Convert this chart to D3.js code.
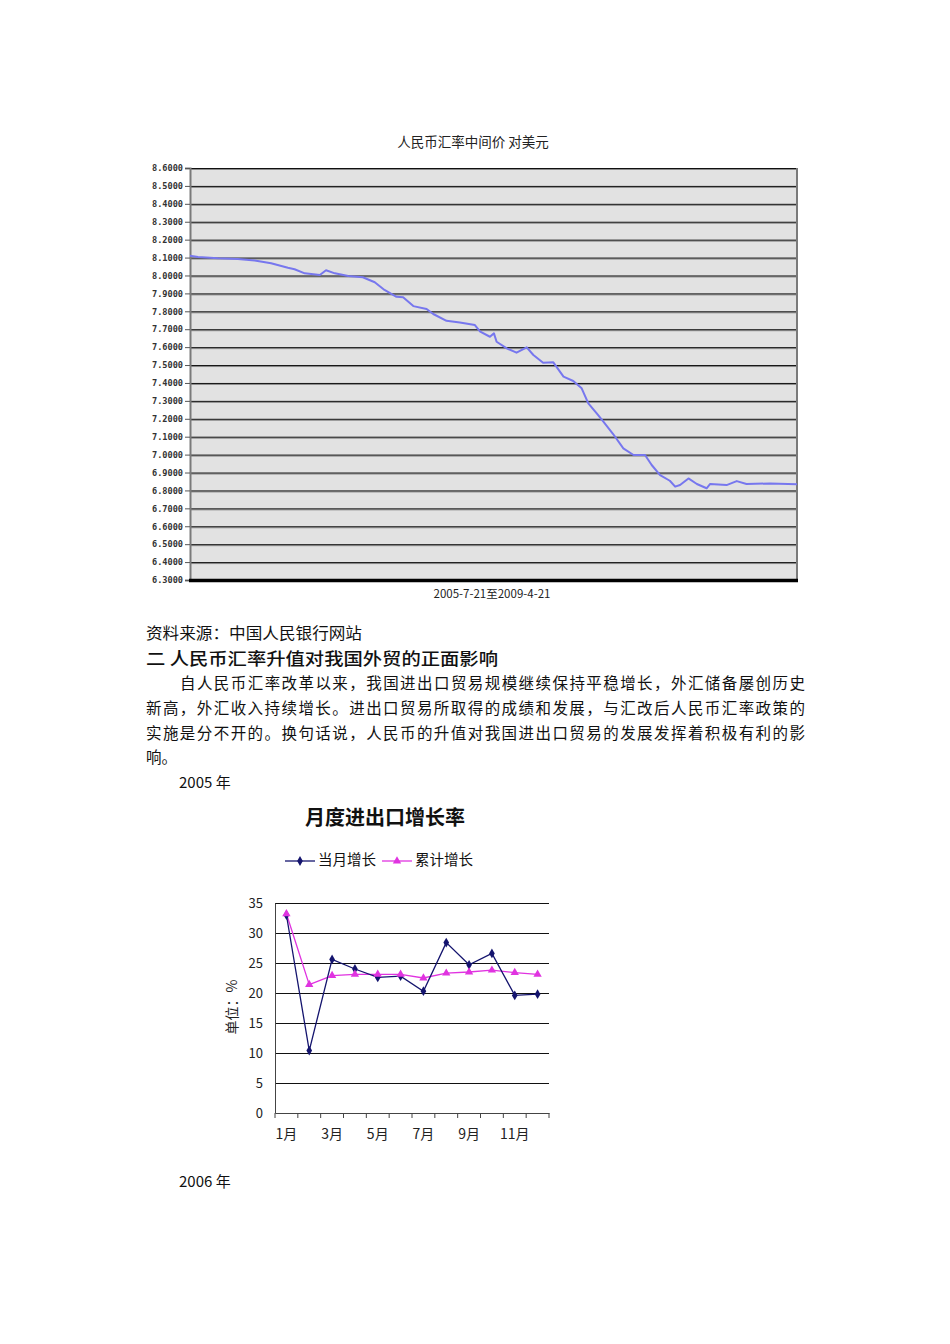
<!DOCTYPE html>
<html><head><meta charset="utf-8">
<script src="https://cdn.jsdelivr.net/npm/d3@7"></script>
<style>body{margin:0;background:#fff} svg{display:block}</style>
</head><body>
<script>
// ---------- data: chart 1 (RMB central parity vs USD) ----------
const rateDates = ["2005-07-21","2005-08-08","2005-09-22","2005-11-06","2005-12-14","2006-01-20","2006-02-27","2006-03-14","2006-04-06","2006-05-10","2006-05-24","2006-06-13","2006-07-13","2006-08-15","2006-09-11","2006-10-03","2006-10-30","2006-11-14","2006-12-07","2007-01-06","2007-01-21","2007-02-20","2007-03-22","2007-04-25","2007-05-07","2007-05-29","2007-06-07","2007-06-13","2007-07-06","2007-07-28","2007-08-20","2007-09-04","2007-09-26","2007-10-19","2007-11-11","2007-12-03","2007-12-22","2008-01-06","2008-01-25","2008-02-09","2008-03-02","2008-03-25","2008-04-17","2008-05-13","2008-05-28","2008-06-16","2008-07-08","2008-07-20","2008-07-31","2008-08-19","2008-09-07","2008-09-29","2008-10-07","2008-11-13","2008-12-06","2008-12-28","2009-02-19","2009-04-21"];
const rateValues = [8.110,8.103,8.096,8.092,8.083,8.068,8.043,8.035,8.012,8.003,8.029,8.012,7.997,7.990,7.962,7.919,7.881,7.878,7.829,7.813,7.785,7.747,7.738,7.723,7.686,7.658,7.677,7.630,7.593,7.569,7.599,7.556,7.513,7.515,7.435,7.411,7.370,7.286,7.230,7.184,7.115,7.035,6.998,6.998,6.942,6.886,6.854,6.821,6.830,6.867,6.836,6.812,6.836,6.830,6.852,6.836,6.839,6.834];
const rateTicks = [8.6,8.5,8.4,8.3,8.2,8.1,8.0,7.9,7.8,7.7,7.6,7.5,7.4,7.3,7.2,7.1,7.0,6.9,6.8,6.7,6.6,6.5,6.4,6.3];
const rateTitle = "人民币汇率中间价 对美元";
const rateXLabel = "2005-7-21至2009-4-21";

// ---------- data: chart 2 (monthly import/export growth 2005) ----------
const months = ["1月","2月","3月","4月","5月","6月","7月","8月","9月","10月","11月","12月"];
const monthlyGrowth = [33.0,10.4,25.6,24.0,22.6,22.8,20.3,28.4,24.7,26.6,19.6,19.8];
const cumulativeGrowth = [33.2,21.4,22.9,23.1,23.1,23.1,22.5,23.3,23.5,23.8,23.4,23.1];
const growthTicks = [0,5,10,15,20,25,30,35];
const seriesNames = ["当月增长","累计增长"];

// ---------- page text ----------
const sourceText = "资料来源：中国人民银行网站";
const headingText = "二 人民币汇率升值对我国外贸的正面影响";
const paraLines = [
  {t:"自人民币汇率改革以来，我国进出口贸易规模继续保持平稳增长，外汇储备屡创历史", indent:true, just:true},
  {t:"新高，外汇收入持续增长。进出口贸易所取得的成绩和发展，与汇改后人民币汇率政策的", indent:false, just:true},
  {t:"实施是分不开的。换句话说，人民币的升值对我国进出口贸易的发展发挥着积极有利的影", indent:false, just:true},
  {t:"响。", indent:false, just:false}
];

const FONT = "'Noto Sans CJK SC','Noto Sans',sans-serif";
const svg = d3.select("body").append("svg").attr("width",950).attr("height",1344)
  .style("font-family",FONT);

// ================= chart 1 =================
const parse = d3.timeParse("%Y-%m-%d");
const rateData = rateDates.map((d,i)=>({date:parse(d), v:rateValues[i]}));
const x1 = d3.scaleTime().domain([parse("2005-07-21"),parse("2009-04-21")]).range([190,797]);
const y1 = d3.scaleLinear().domain([6.3,8.6]).range([580,168]);

const g1 = svg.append("g");
g1.append("rect").attr("x",190).attr("y",168).attr("width",607).attr("height",412).attr("fill","#e2e2e2");
g1.selectAll(".gl").data(rateTicks.filter(t=>t>6.35)).join("line")
  .attr("x1",190).attr("x2",797).attr("y1",d=>y1(d)+1.5).attr("y2",d=>y1(d)+1.5)
  .attr("stroke","#8a8a8a").attr("stroke-width",1);
g1.selectAll(".gd").data(rateTicks.filter(t=>t>6.35)).join("line")
  .attr("x1",190).attr("x2",797).attr("y1",d=>y1(d)+0.5).attr("y2",d=>y1(d)+0.5)
  .attr("stroke","#111").attr("stroke-width",1);
g1.append("line").attr("x1",797).attr("x2",797).attr("y1",168).attr("y2",580).attr("stroke","#7a7a7a").attr("stroke-width",2);
const ax1 = g1.append("g").attr("transform","translate(190,0)")
  .call(d3.axisLeft(y1).tickValues(rateTicks).tickFormat(d3.format(".4f")).tickSize(5).tickPadding(2));
ax1.select(".domain").attr("stroke","#7a7a7a").attr("stroke-width",2);
ax1.selectAll(".tick line").attr("stroke","#555");
ax1.selectAll(".tick text").attr("font-family","'DejaVu Sans Mono',monospace").attr("font-size",8.6)
  .attr("font-weight","bold").attr("fill","#333");
g1.append("path").datum(rateData)
  .attr("d",d3.line().x(d=>x1(d.date)).y(d=>y1(d.v)))
  .attr("fill","none").attr("stroke","#7777ee").attr("stroke-width",2).attr("stroke-linejoin","round");
g1.append("line").attr("x1",189).attr("x2",798).attr("y1",y1(6.3)+0.5).attr("y2",y1(6.3)+0.5)
  .attr("stroke","#000").attr("stroke-width",3.5);
g1.append("text").attr("x",473).attr("y",143).attr("text-anchor","middle").attr("dominant-baseline","middle")
  .attr("font-size",13.5).attr("fill","#222").text(rateTitle);
g1.append("text").attr("x",492).attr("y",595).attr("text-anchor","middle").attr("dominant-baseline","middle")
  .attr("font-size",11.5).attr("fill","#222").text(rateXLabel);

// ================= text block =================
const tb = svg.append("g").attr("fill","#111");
tb.append("text").attr("x",146).attr("y",635).attr("dominant-baseline","middle").attr("font-size",15.5)
  .attr("textLength",216).attr("lengthAdjust","spacingAndGlyphs").text(sourceText);
tb.append("text").attr("x",146).attr("y",660).attr("dominant-baseline","middle").attr("font-size",17.5)
  .attr("font-weight","500").attr("textLength",352).attr("lengthAdjust","spacingAndGlyphs").text(headingText);
paraLines.forEach((l,i)=>{
  const t = tb.append("text").attr("x",l.indent?180:146).attr("y",685+i*24.7)
    .attr("dominant-baseline","middle").attr("font-size",15.5).text(l.t);
  if(l.just) t.attr("textLength",l.indent?625:659).attr("lengthAdjust","spacing");
});
tb.append("text").attr("x",179).attr("y",784).attr("dominant-baseline","middle").attr("font-size",15).text("2005 年");
tb.append("text").attr("x",179).attr("y",1183).attr("dominant-baseline","middle").attr("font-size",15).text("2006 年");

// ================= chart 2 =================
const x2 = d3.scaleBand().domain(months).range([275,549]);
const y2 = d3.scaleLinear().domain([0,35]).range([1113,903]);
const g2 = svg.append("g");
const navy = "#14146e", pink = "#e033e0";

g2.append("text").attr("x",385).attr("y",820).attr("text-anchor","middle").attr("dominant-baseline","middle")
  .attr("font-size",20).attr("font-weight","bold").attr("fill","#111").text("月度进出口增长率");

const lg = g2.append("g");
lg.append("line").attr("x1",285).attr("x2",315).attr("y1",861).attr("y2",861).attr("stroke",navy).attr("stroke-width",1.3);
lg.append("path").attr("transform","translate(300,861)").attr("d",d3.symbol(d3.symbolDiamond,28)()).attr("fill",navy);
lg.append("text").attr("x",318).attr("y",861).attr("dominant-baseline","middle").attr("font-size",14.5).attr("fill","#111").text(seriesNames[0]);
lg.append("line").attr("x1",382).attr("x2",412).attr("y1",861).attr("y2",861).attr("stroke",pink).attr("stroke-width",1.3);
lg.append("path").attr("transform","translate(397,861)").attr("d",d3.symbol(d3.symbolTriangle,30)()).attr("fill",pink);
lg.append("text").attr("x",415).attr("y",861).attr("dominant-baseline","middle").attr("font-size",14.5).attr("fill","#111").text(seriesNames[1]);

g2.selectAll(".g2l").data(growthTicks.filter(t=>t>0)).join("line")
  .attr("x1",275).attr("x2",549).attr("y1",d=>Math.round(y2(d))+0.5).attr("y2",d=>Math.round(y2(d))+0.5)
  .attr("stroke","#111").attr("stroke-width",1.2);
const ay2 = g2.append("g").attr("transform","translate(275,0)")
  .call(d3.axisLeft(y2).tickValues(growthTicks).tickSize(0).tickPadding(12));
ay2.select(".domain").attr("stroke","#444");
ay2.selectAll(".tick text").attr("font-size",13).attr("font-family",FONT).attr("fill","#222");
const ax2 = g2.append("g").attr("transform","translate(0,1113)")
  .call(d3.axisBottom(x2).tickSize(0).tickPadding(16).tickFormat((d,i)=>i%2===0?d:""));
ax2.select(".domain").attr("stroke","#444");
ax2.selectAll(".tick text").attr("font-size",14).attr("font-family",FONT).attr("fill","#222");
g2.selectAll(".bt").data(months.concat(["end"])).join("line")
  .attr("x1",(d,i)=>i<12?x2(d):x2.range()[1]).attr("x2",(d,i)=>i<12?x2(d):x2.range()[1])
  .attr("y1",1113).attr("y2",1118).attr("stroke","#444");
g2.append("text").attr("transform","translate(233,1007) rotate(-90)").attr("text-anchor","middle")
  .attr("dominant-baseline","middle").attr("font-size",14).attr("fill","#222").text("单位：%");

const cx = m=>x2(m)+x2.bandwidth()/2;
const line2 = d3.line().x((d,i)=>cx(months[i])).y(d=>y2(d));
g2.append("path").datum(cumulativeGrowth).attr("d",line2).attr("fill","none").attr("stroke",pink).attr("stroke-width",1.3);
g2.append("path").datum(monthlyGrowth).attr("d",line2).attr("fill","none").attr("stroke",navy).attr("stroke-width",1.3);
g2.selectAll(".mk1").data(monthlyGrowth).join("path")
  .attr("transform",(d,i)=>`translate(${cx(months[i])},${y2(d)})`).attr("d",d3.symbol(d3.symbolDiamond,28)()).attr("fill",navy);
g2.selectAll(".mk2").data(cumulativeGrowth).join("path")
  .attr("transform",(d,i)=>`translate(${cx(months[i])},${y2(d)})`).attr("d",d3.symbol(d3.symbolTriangle,30)()).attr("fill",pink);
</script>
</body></html>
